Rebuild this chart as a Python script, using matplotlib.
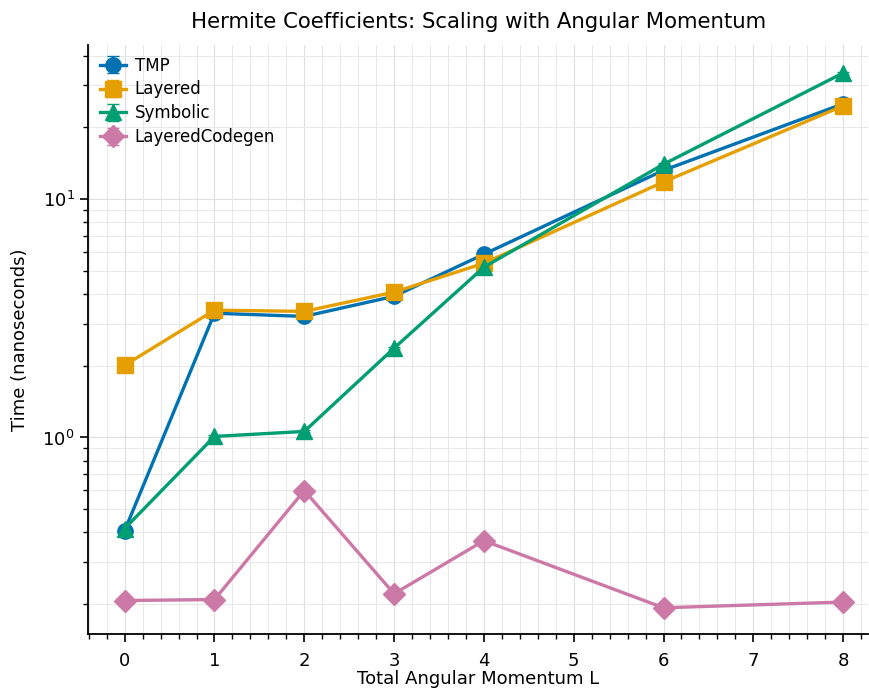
import numpy as np
import matplotlib
import matplotlib.pyplot as plt
from matplotlib.ticker import MultipleLocator, LogLocator, NullFormatter
matplotlib.use('agg')

# total angular momentum values and timings (ns)
L_values = [0, 1, 2, 3, 4, 6, 8]
tmp_times = [0.407, 3.32, 3.22, 3.91, 5.87, 13.2, 25.1]
layered_times = [2.01, 3.42, 3.38, 4.07, 5.38, 11.8, 24.6]
symbolic_times = [0.415, 1.01, 1.06, 2.37, 5.18, 14.0, 33.8]
codegen_times = [0.207, 0.209, 0.599, 0.221, 0.369, 0.193, 0.204]
series_names = ["TMP", "Layered", "Symbolic", "LayeredCodegen"]

colors = ["#0072B2", "#E69F00", "#009E73", "#CC79A7"]
markers = ["o", "s", "^", "D"]

fig = plt.figure(figsize=(8.7, 6.92), dpi=100)
ax = fig.add_axes([0.101, 0.084, 0.897, 0.851])

all_series = [tmp_times, layered_times, symbolic_times, codegen_times]
for name, vals, c, m in zip(series_names, all_series, colors, markers):
    vals = np.array(vals)
    ax.errorbar(L_values, vals, yerr=vals * 0.01, color=c, marker=m,
                markersize=11, linewidth=2.4, capsize=4, elinewidth=1.5,
                label=name)

ax.set_yscale('log')
ax.set_xlim(-0.41, 8.28)
ax.set_ylim(0.15, 44.3)
ax.xaxis.set_major_locator(MultipleLocator(1))
ax.xaxis.set_minor_locator(MultipleLocator(0.2))
ax.yaxis.set_minor_locator(LogLocator(base=10, subs=np.arange(2, 10)))
ax.yaxis.set_minor_formatter(NullFormatter())
ax.grid(True, which='major', color='#e0e0e0', linewidth=0.9)
ax.grid(True, which='minor', color='#e8e8e8', linewidth=0.7)
ax.set_axisbelow(True)

ax.spines['top'].set_visible(False)
ax.spines['right'].set_visible(False)
ax.spines['left'].set_linewidth(1.3)
ax.spines['bottom'].set_linewidth(1.3)
ax.tick_params(which='major', length=6, width=1.2, labelsize=13)
ax.tick_params(axis='x', which='major', pad=7)
ax.tick_params(which='minor', length=3.5, width=1.0)

ax.set_xlabel("Total Angular Momentum L", fontsize=13, labelpad=0)
ax.set_ylabel("Time (nanoseconds)", fontsize=13, labelpad=10)
ax.set_title("Hermite Coefficients: Scaling with Angular Momentum", fontsize=15.3, pad=12)
ax.legend(loc='upper left', frameon=False, fontsize=12, handlelength=1.6,
          handletextpad=0.5, labelspacing=0.35, borderaxespad=0.3)

plt.savefig('out.png', dpi=100)
